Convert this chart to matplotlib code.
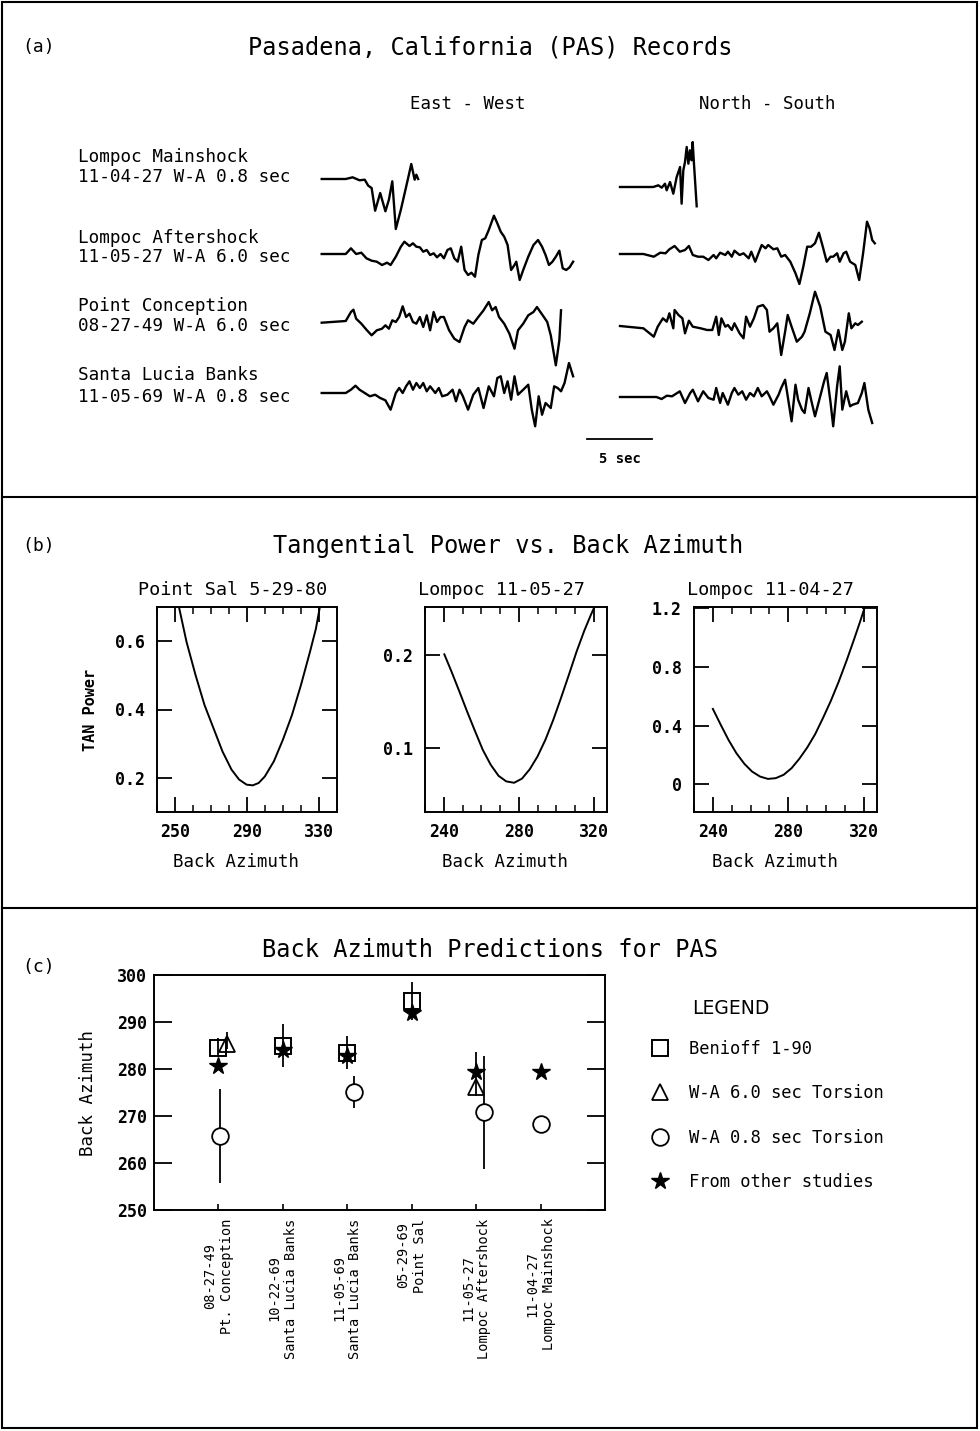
import matplotlib

matplotlib.use("Agg")

import matplotlib.pyplot as plt
import numpy as np
from matplotlib.patches import Rectangle

W, H = 980, 1431
PX_PER_SEC = 13.0
nan = np.nan

# ---------------- panel (a): digitised traces ----------------
# time in s from trace start, amplitude in px (up = positive)
EW_MAIN_T = [0, 1.85, 2.38, 2.91, 3.31, 3.58, 3.84, 4.11, 4.5, 4.9, 5.17, 5.43, 5.7, 6.09, 6.62, 6.89, 7.15, 7.28, 7.42]
EW_MAIN_A = [0, 0, 1.7, -1.3, -0.7, -6.7, -9, -31.7, -14, -32.3, -20.7, -2.3, -50, -30.7, -0.7, 15, -0.7, 4.3, 0]

EW_AFTER_T = [0, 1.85, 2.25, 2.65, 3.05, 3.44, 3.84, 4.24, 4.64, 5.03, 5.3, 5.7, 6.09, 6.36, 6.75,
              7.02, 7.28, 7.55, 7.81, 8.08, 8.34, 8.61, 8.87, 9.14, 9.4, 9.67, 9.93, 10.2, 10.46, 10.73,
              10.99, 11.26, 11.52, 11.79, 12.05, 12.32, 12.58, 12.85, 13.25, 13.51, 13.77, 14.04, 14.3,
              14.57, 14.83, 14.97, 15.23, 15.5, 15.89, 16.29, 16.64, 16.95, 17.22, 17.48, 17.75, 18.01,
              18.28, 18.54, 18.81, 19.07, 19.34]
EW_AFTER_A = [0, 0, 5.7, 0, 1.3, -4.3, -6.7, -7.7, -11, -8.7, -11, -2.7, 7.3, 12.3, 8, 10.7, 7.3, 6.7,
              2.3, 4, -1, 0.7, -3.3, 0, -4.3, 4, 5.7, -4.3, -7.7, 7.3, -16, -21, -18.7, -22.7, -1, 14,
              15.7, 24, 38.3, 30.7, 22.3, 17.3, 9, -16, -11, -7.7, -26, -16, -2.7, 9, 14, 7.3, -1, -11,
              -7.7, -2.7, 3.3, -14.3, -16, -13.3, -7.7]

EW_CONC_T = [0, 1.85, 2.25, 2.44, 2.65, 3.05, 3.44, 3.84, 4.24, 4.64, 4.9, 5.17, 5.43, 5.7, 5.96, 6.23,
             6.49, 6.75, 7.02, 7.28, 7.55, 7.81, 8.08, 8.34, 8.61, 8.87, 9.14, 9.4, 9.8, 10.2, 10.6,
             10.99, 11.26, 11.66, 12.05, 12.45, 12.85, 13.11, 13.38, 13.64, 14.04, 14.44, 14.83, 15.1,
             15.5, 15.89, 16.29, 16.56, 16.82, 17.09, 17.35, 17.62, 18.01, 18.28, 18.41]
EW_CONC_A = [-0.7, 1, 10, 12.3, 3.3, -1.7, -7.7, -13.3, -8.3, -6.7, -3.3, -6.7, 1.7, 0, 5, 15.7, 5, 8.3,
             0, -1.7, 5, -5, 6.7, -8.3, 10, 0, 5, 5, -8.3, -16.7, -20, -5, 1.7, -1.7, 5, 11.7, 20, 11.7,
             15, 5, -1.7, -11.7, -26.7, -8.3, -1.7, 6.7, 10, 15, 10, 5, 0, -13.3, -43.3, -18.3, 11.7]

EW_SLB_T = [0, 1.85, 2.25, 2.6, 2.91, 3.31, 3.71, 4.11, 4.5, 4.9, 5.3, 5.7, 5.96, 6.23, 6.49, 6.75, 7.02,
            7.28, 7.55, 7.81, 8.08, 8.34, 8.74, 9.01, 9.27, 9.67, 10.07, 10.33, 10.6, 10.86, 11.26, 11.66,
            12.05, 12.45, 12.85, 13.25, 13.51, 13.77, 14.04, 14.3, 14.57, 14.83, 15.1, 15.5, 15.89, 16.16,
            16.42, 16.69, 16.95, 17.22, 17.62, 17.88, 18.15, 18.41, 18.68, 19.02, 19.34]
EW_SLB_A = [0, 0, 3.3, 7.3, 3.3, 0, -3.3, -1.7, -5, -7.3, -16.7, 0, 5, 0, 6.7, 11.7, 3.3, 10, 5, 10, 1.7,
            6.7, 0, 5, -3.3, -1.7, 3.3, -8.3, 3.3, -3.3, -16.7, -1.7, 5, -15, 6.7, -3.3, 15, 16.7, 0,
            11.7, -6.7, 16.7, -1.7, 3.3, 8.3, -16.7, -33.3, -3.3, -21.7, -10, -15, 6.7, 5, 1.7, 10, 30,
            16.7]

NS_MAIN_T = [0, 2.56, 2.95, 3.21, 3.46, 3.59, 3.85, 4.1, 4.36, 4.62, 4.74, 4.87, 5.0, 5.13, 5.26, 5.38,
             5.51, 5.59, 5.69, 5.9]
NS_MAIN_A = [0, 0, 1.7, -0.7, 3.3, -3.3, 5, -6.7, 10, 20, -16.7, 16.7, 25, 40, 23.3, 36.7, 26.7, 45,
             23.3, -19.3]

NS_AFTER_T = [0, 1.8, 2.6, 3.1, 3.5, 3.8, 4.2, 4.6, 5.0, 5.3, 5.6, 6.0, 6.4, 6.8, 7.2, 7.4, 7.7, 8.1,
              8.3, 8.6, 8.8, 9.2, 9.5, 9.9, 10.1, 10.4, 10.6, 10.9, 11.2, 11.4, 11.8, 12.1, 12.4, 12.7,
              13.1, 13.5, 13.8, 14.1, 14.4, 14.7, 15.0, 15.3, 15.6, 15.9, 16.2, 16.4, 16.7, 16.9, 17.2,
              17.4, 17.7, 18.1, 18.4, 18.7, 19.0, 19.2, 19.4, 19.6]
NS_AFTER_A = [0, 0, -2.7, 1.3, 0.7, 4.7, 8, 2.3, 4, 8, -1, -2.7, -2.7, -6, -1, -4.3, 1.3, -1, 2.3, -2.7,
              3.3, -1, 0.7, -4.3, 2.3, -7.7, -1, 9, 5.7, 9, 4.7, 5.7, -2.7, -1, -7.7, -19.3, -30, -12.7,
              7.3, 7.3, 10.7, 21.3, 7.3, -7.7, -2.7, -2.7, 0.7, -7.7, 0.7, 2.3, -7.7, -11, -26, 0.7,
              32.3, 25.7, 14, 10.7]

NS_CONC_T = [0, 1.8, 2.6, 2.9, 3.3, 3.6, 3.8, 4.1, 4.2, 4.5, 4.8, 5.0, 5.3, 5.6, 6.2, 6.7, 7.1, 7.4, 7.6,
             7.8, 8.1, 8.3, 8.6, 8.8, 9.2, 9.5, 9.7, 10.0, 10.3, 10.6, 11.0, 11.3, 11.5, 11.8, 12.1,
             12.4, 12.7, 12.9, 13.2, 13.6, 14.0, 14.2, 14.6, 15.0, 15.4, 15.8, 16.2, 16.5, 16.8, 17.1,
             17.3, 17.6, 17.8, 18.1, 18.3, 18.6]
NS_CONC_A = [0, -2.3, -10.7, -0.7, 7.7, 4.3, 12.7, -2.3, 16, 11, 7.7, -7.3, 5.3, -0.7, -2.3, -4, -4,
             9.3, -9, 7.7, -0.7, 1, -4, 2.7, -7.3, -12.3, 9.3, -0.7, 7.7, 19.3, 21, 16, -5.7, -2.3, 2.7,
             -29, -5.7, 11, -0.7, -15.7, -10.7, -5.7, 12.7, 34.3, 19.3, -5.7, -9, -24, -4, -24, -15.7,
             12.7, -2.3, 2.7, 1, 4.3]

NS_SLB_T = [0, 2.8, 3.2, 3.6, 4.0, 4.4, 4.6, 5.0, 5.4, 5.6, 6.0, 6.4, 6.8, 7.2, 7.4, 7.7, 7.9, 8.3, 8.6,
            8.8, 9.1, 9.4, 9.7, 10.0, 10.3, 10.6, 10.9, 11.3, 11.5, 11.8, 12.2, 12.4, 12.7, 12.9, 13.2,
            13.5, 13.7, 14.0, 14.2, 14.5, 14.7, 15.0, 15.4, 15.7, 15.9, 16.2, 16.4, 16.7, 16.9, 17.1,
            17.4, 17.7, 17.9, 18.3, 18.6, 18.8, 19.1, 19.4]
NS_SLB_A = [0, 0, -2, 1.3, 0.7, 4, 5.7, -6, 4, 7.3, -4.3, 5.7, -1, -2.7, 9, -6, 4, -7.7, 4, 9, 2.3, 5.7,
            -2.7, 4, 0.7, 9, 0.7, 5.7, 0.7, -7.7, 2.3, 9, 17.3, 0.7, -24.3, 12.3, -2.7, -12.7, -16, 9,
            -2.7, -19.3, 0.7, 15.7, 24, -6, -29.3, 10.7, 30.7, -12.7, 5.7, -9.3, -7.7, -6, 4, 14, -12.7,
            -26]

RECORD_NAMES = ["Lompoc Mainshock", "Lompoc Aftershock", "Point Conception", "Santa Lucia Banks"]
RECORD_INFO = ["11-04-27 W-A 0.8 sec", "11-05-27 W-A 6.0 sec", "08-27-49 W-A 6.0 sec", "11-05-69 W-A 0.8 sec"]

# ---------------- panel (b): tangential power curves ----------------
PSAL_AZ = [252.2, 256.4, 261.4, 266.4, 271.4, 276.4, 281.4, 285.6, 289.8, 293.2, 296.5, 299.9, 304.9,
           309.9, 315.0, 320.0, 325.0, 328.3, 330.3]
PSAL_POW = [0.70, 0.598, 0.501, 0.413, 0.345, 0.277, 0.224, 0.195, 0.180, 0.178, 0.185, 0.204, 0.248,
            0.311, 0.384, 0.472, 0.569, 0.637, 0.695]

AFTER_AZ = [240.3, 244.2, 248.3, 252.5, 256.7, 260.8, 265.0, 269.2, 273.3, 277.5, 281.7, 285.8, 290.0,
            294.2, 298.3, 302.5, 306.7, 310.8, 315.0, 318.3, 320.3]
AFTER_POW = [0.201, 0.182, 0.161, 0.139, 0.118, 0.098, 0.082, 0.070, 0.064, 0.0625, 0.067, 0.077, 0.091,
             0.109, 0.130, 0.154, 0.179, 0.204, 0.227, 0.243, 0.252]

MAIN_AZ = [240.0, 244.2, 248.3, 252.5, 256.7, 260.8, 265.0, 269.2, 273.3, 277.5, 281.7, 285.8, 290.0,
           294.2, 298.3, 302.5, 306.7, 310.8, 315.0, 318.3, 320.3]
MAIN_POW = [0.514, 0.405, 0.302, 0.211, 0.139, 0.086, 0.052, 0.036, 0.041, 0.064, 0.109, 0.173, 0.25,
            0.341, 0.45, 0.568, 0.7, 0.841, 0.995, 1.12, 1.2]

# ---------------- panel (c): back azimuth predictions ----------------
EVENT_LABELS = ["08-27-49\nPt. Conception", "10-22-69\nSanta Lucia Banks", "11-05-69\nSanta Lucia Banks",
                "05-29-69\nPoint Sal", "11-05-27\nLompoc Aftershock", "11-04-27\nLompoc Mainshock"]
EVENT_POS = [1, 2, 3, 4, 5, 6]
BENIOFF = [284.5, 285.0, 283.5, 294.5, nan, nan]
BENIOFF_ERR = [2.0, 4.6, 3.5, 4.0, nan, nan]
WA60 = [285.3, nan, nan, nan, 276.2, nan]
WA60_ERR_LO = [1.0, nan, nan, nan, 2.0, nan]
WA60_ERR_HI = [2.6, nan, nan, nan, 7.4, nan]
WA08 = [265.8, nan, 275.1, nan, 270.8, 268.2]
WA08_ERR = [10.0, nan, 3.5, nan, 12.0, 1.5]
OTHER = [280.6, 284.0, 282.8, 292.0, 279.3, 279.3]
WA60_SHIFT = [0.13, 0, 0, 0, 0, 0]
WA08_SHIFT = [0.03, 0, 0.1, 0, 0.12, 0]


def rect(x0, y0, x1, y1):
    return [x0 / W, 1 - y1 / H, (x1 - x0) / W, (y1 - y0) / H]


def ftext(fig, x, y, s, **kw):
    kw.setdefault("va", "center")
    return fig.text(x / W, 1 - y / H, s, **kw)


def bold_ticks(ax):
    for lab in ax.get_xticklabels() + ax.get_yticklabels():
        lab.set_fontweight("bold")


plt.rcParams["font.family"] = ["DejaVu Sans Mono", "DejaVu Sans"]
plt.rcParams["axes.linewidth"] = 1.4

fig = plt.figure(figsize=(W / 100, H / 100), dpi=100)

# frame and panel separators
bg = fig.add_axes([0, 0, 1, 1], zorder=-1)
bg.set_xlim(0, W)
bg.set_ylim(H, 0)
bg.axis("off")
bg.add_patch(Rectangle((2, 2), W - 5, H - 5, fill=False, lw=1.5, ec="black"))
bg.plot([2, W - 3], [497, 497], color="black", lw=1.5)
bg.plot([2, W - 3], [908, 908], color="black", lw=1.5)

# ---- panel (a)
ftext(fig, 22, 47, "(a)", fontsize=13)
ftext(fig, 490, 47, "Pasadena, California (PAS) Records", fontsize=17, ha="center")
ftext(fig, 468, 104, "East - West", fontsize=12.5, ha="center")
ftext(fig, 767, 104, "North - South", fontsize=12.5, ha="center")
label_rows = [(157, 177), (238, 257), (306, 326), (375, 397)]
for (y1, y2), name, info in zip(label_rows, RECORD_NAMES, RECORD_INFO):
    ftext(fig, 78, y1, name, fontsize=12.7)
    ftext(fig, 78, y2, info, fontsize=12.7)

axw = fig.add_axes(rect(0, 0, W, 497))
axw.set_xlim(0, W / PX_PER_SEC)
axw.set_ylim(497, 0)
axw.axis("off")
ew_start = 321.7 / PX_PER_SEC
ns_start = 620 / PX_PER_SEC
ew_traces = [(EW_MAIN_T, EW_MAIN_A, 179), (EW_AFTER_T, EW_AFTER_A, 254),
             (EW_CONC_T, EW_CONC_A, 322), (EW_SLB_T, EW_SLB_A, 393)]
ns_traces = [(NS_MAIN_T, NS_MAIN_A, 187), (NS_AFTER_T, NS_AFTER_A, 254),
             (NS_CONC_T, NS_CONC_A, 326), (NS_SLB_T, NS_SLB_A, 397)]
for start, traces in ((ew_start, ew_traces), (ns_start, ns_traces)):
    for t, a, base in traces:
        axw.plot(start + np.array(t), base - np.array(a), color="black", lw=1.7)
bar_x0 = 587 / PX_PER_SEC
axw.plot([bar_x0, bar_x0 + 5], [439, 439], color="black", lw=1.3)
axw.text(bar_x0 + 2.5, 459, "5 sec", ha="center", va="center", fontsize=10, fontweight="bold")

# ---- panel (b)
ftext(fig, 22, 546, "(b)", fontsize=13)
ftext(fig, 508, 546, "Tangential Power vs. Back Azimuth", fontsize=17, ha="center")

b_specs = [
    (rect(157, 607, 337, 812), PSAL_AZ, PSAL_POW, "Point Sal 5-29-80", (250, 340), (0.1, 0.7),
     [250, 290, 330], [0.2, 0.4, 0.6], ["0.2", "0.4", "0.6"]),
    (rect(425, 607, 607, 812), AFTER_AZ, AFTER_POW, "Lompoc 11-05-27", (236, 327), (0.031, 0.252),
     [240, 280, 320], [0.1, 0.2], ["0.1", "0.2"]),
    (rect(694, 607, 877, 812), MAIN_AZ, MAIN_POW, "Lompoc 11-04-27", (235.5, 327), (-0.19, 1.21),
     [240, 280, 320], [0, 0.4, 0.8, 1.2], ["0", "0.4", "0.8", "1.2"]),
]
for i, (r, az, pw, title, xl, yl, xt, yt, ytl) in enumerate(b_specs):
    ax = fig.add_axes(r)
    ax.plot(az, pw, color="black", lw=1.4)
    ax.set_xlim(*xl)
    ax.set_ylim(*yl)
    ax.set_xticks(xt)
    ax.set_xticks(np.arange(xt[0] - 10, xl[1], 10), minor=True)
    ax.set_yticks(yt)
    ax.set_yticklabels(ytl)
    ax.tick_params(which="major", direction="in", length=11, width=1.3, top=True, right=True,
                   labelsize=12)
    ax.tick_params(axis="x", which="major", pad=8)
    ax.tick_params(axis="y", which="major", pad=9)
    ax.tick_params(axis="x", which="minor", direction="in", length=5, width=1.1, top=True)
    bold_ticks(ax)
    ax.text(0.42, 1.04, title, transform=ax.transAxes, ha="center", va="bottom", fontsize=13.3)
    ax.set_xlabel("Back Azimuth", fontsize=12.5)
    ax.xaxis.set_label_coords(0.44, -0.2)
    if i == 0:
        ax.set_ylabel("TAN Power", fontsize=11, fontweight="bold")
        ax.yaxis.set_label_coords(-0.33, 0.5)

# ---- panel (c)
ftext(fig, 22, 967, "(c)", fontsize=13)
ftext(fig, 490, 950, "Back Azimuth Predictions for PAS", fontsize=17, ha="center")

axc = fig.add_axes(rect(154, 975, 605, 1210))
pos = np.array(EVENT_POS, dtype=float)
ben = np.array(BENIOFF)
w60 = np.array(WA60)
w08 = np.array(WA08)
oth = np.array(OTHER)
x60 = pos + np.array(WA60_SHIFT)
x08 = pos + np.array(WA08_SHIFT)

m = ~np.isnan(ben)
axc.errorbar(pos[m], ben[m], yerr=np.array(BENIOFF_ERR)[m], fmt="none", ecolor="black", elinewidth=1.3)
m = ~np.isnan(w60)
axc.errorbar(x60[m], w60[m], yerr=[np.array(WA60_ERR_LO)[m], np.array(WA60_ERR_HI)[m]], fmt="none",
             ecolor="black", elinewidth=1.3)
m = ~np.isnan(w08)
axc.errorbar(x08[m], w08[m], yerr=np.array(WA08_ERR)[m], fmt="none", ecolor="black", elinewidth=1.3)

h_ben, = axc.plot(pos, ben, ls="none", marker="s", ms=11, mfc="none", mec="black", mew=1.4,
                  label="Benioff 1-90")
h_60, = axc.plot(x60, w60, ls="none", marker="^", ms=12, mfc="none", mec="black", mew=1.3,
                 label="W-A 6.0 sec Torsion")
h_08, = axc.plot(x08, w08, ls="none", marker="o", ms=12, mfc="white", mec="black", mew=1.3,
                 label="W-A 0.8 sec Torsion")
h_oth, = axc.plot(pos, oth, ls="none", marker="*", ms=13, mfc="black", mec="black",
                  label="From other studies")

axc.set_xlim(0, 7)
axc.set_ylim(250, 300)
axc.set_yticks(np.arange(250, 301, 10))
axc.set_xticks(EVENT_POS)
axc.set_xticklabels(EVENT_LABELS, rotation=90, ha="center", va="top", multialignment="center",
                    fontsize=9.8)
axc.tick_params(axis="y", direction="in", length=13, width=1.3, right=True, labelsize=12, pad=5)
axc.tick_params(axis="x", direction="in", length=4, width=1.2, pad=6)
for lab in axc.get_yticklabels():
    lab.set_fontweight("bold")
axc.set_ylabel("Back Azimuth", fontsize=12.5)
axc.yaxis.set_label_coords(-0.126, 0.5)

ftext(fig, 692, 1008, "LEGEND", fontsize=13.5, family="DejaVu Sans")
fig.legend(handles=[h_ben, h_60, h_08, h_oth], loc="upper left",
           bbox_to_anchor=(651 / W, 1 - 1040 / H), frameon=False, fontsize=12.3,
           handlelength=1.0, handletextpad=1.2, labelspacing=1.55, borderpad=0, borderaxespad=0)

fig.savefig("out.png", dpi=100)
